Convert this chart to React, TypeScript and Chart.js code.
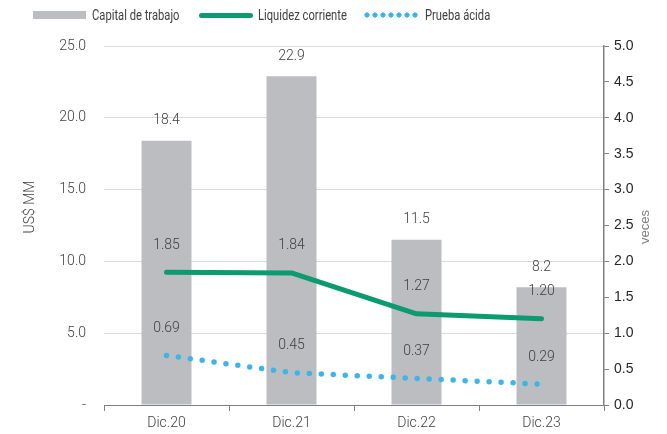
import React, { useEffect, useRef } from "react";
import { Chart, registerables } from "chart.js";

Chart.register(...registerables);

const categories = ["Dic.20", "Dic.21", "Dic.22", "Dic.23"];
const capitalTrabajo = [18.4, 22.9, 11.5, 8.2];
const liquidezCorriente = [1.85, 1.84, 1.27, 1.2];
const pruebaAcida = [0.69, 0.45, 0.37, 0.29];

const BAR_COLOR = "#bcbdc0";
const GREEN = "#0c9a70";
const BLUE = "#3db5e8";
const TEXT = "#404040";
const LIGHT_FONT = "Roboto, 'Liberation Sans', sans-serif";

const labelsPlugin = {
  id: "valueLabels",
  afterDatasetsDraw(chart: any) {
    const ctx = chart.ctx;
    ctx.save();
    ctx.font = `300 14px ${LIGHT_FONT}`;
    ctx.fillStyle = TEXT;
    ctx.textAlign = "center";
    ctx.textBaseline = "middle";
    chart.data.datasets.forEach((ds: any, i: number) => {
      const meta = chart.getDatasetMeta(i);
      const isBar = meta.type === "bar";
      meta.data.forEach((el: any, j: number) => {
        const v = ds.data[j];
        const txt = isBar ? v.toFixed(1) : v.toFixed(2);
        ctx.fillText(txt, el.x, el.y - (isBar ? 20 : 27));
      });
    });
    ctx.restore();
  },
  afterDraw(chart: any) {
    const ctx = chart.ctx;
    const area = chart.chartArea;
    ctx.save();
    ctx.textAlign = "center";
    ctx.textBaseline = "middle";
    ctx.font = `300 14px ${LIGHT_FONT}`;
    ctx.fillStyle = TEXT;
    ctx.translate(30, 207);
    ctx.rotate(-Math.PI / 2);
    ctx.fillText("US$ MM", 0, 0);
    ctx.restore();
    ctx.save();
    ctx.textAlign = "center";
    ctx.textBaseline = "middle";
    ctx.font = `13px 'Liberation Sans', Arial, sans-serif`;
    ctx.fillStyle = "#7f7f7f";
    ctx.translate(area.right + 41, 227);
    ctx.rotate(-Math.PI / 2);
    ctx.fillText("veces", 0, 0);
    ctx.restore();
  },
};

export default function App() {
  const ref = useRef<HTMLCanvasElement | null>(null);

  useEffect(() => {
    if (!ref.current) return;
    const chart = new Chart(ref.current, {
      type: "bar",
      data: {
        labels: categories,
        datasets: [
          {
            type: "line",
            label: "Liquidez corriente",
            data: liquidezCorriente,
            yAxisID: "y1",
            borderColor: GREEN,
            backgroundColor: GREEN,
            borderWidth: 5,
            borderCapStyle: "round",
            borderJoinStyle: "round",
            pointRadius: 0,
            tension: 0,
            order: 1,
          } as any,
          {
            type: "line",
            label: "Prueba ácida",
            data: pruebaAcida,
            yAxisID: "y1",
            borderColor: BLUE,
            backgroundColor: BLUE,
            borderWidth: 5.5,
            borderDash: [0, 12],
            borderCapStyle: "round",
            pointRadius: 0,
            tension: 0,
            order: 2,
          } as any,
          {
            type: "bar",
            label: "Capital de trabajo",
            data: capitalTrabajo,
            yAxisID: "y",
            backgroundColor: BAR_COLOR,
            barPercentage: 0.4,
            categoryPercentage: 1,
            order: 3,
          } as any,
        ],
      },
      options: {
        animation: false,
        responsive: true,
        maintainAspectRatio: false,
        layout: { padding: { top: 46, left: 0, right: 0, bottom: 0 } },
        plugins: {
          legend: { display: false },
          tooltip: { enabled: false },
        },
        scales: {
          x: {
            offset: true,
            grid: {
              display: true,
              drawOnChartArea: false,
              drawTicks: true,
              tickLength: 6,
              color: "#7f7f7f",
              offset: true,
            },
            border: { display: true, color: "#7f7f7f", width: 1 },
            ticks: {
              color: TEXT,
              font: { family: LIGHT_FONT, size: 14, weight: "300" as any },
              padding: 4,
            },
            afterFit: (s: any) => {
              s.height = 29;
            },
          },
          y: {
            position: "left",
            min: 0,
            max: 25,
            ticks: {
              stepSize: 5,
              color: TEXT,
              font: { family: LIGHT_FONT, size: 14, weight: "300" as any },
              padding: 18,
              callback: (v: any) => (Number(v) === 0 ? "-" : Number(v).toFixed(1)),
            },
            grid: { color: "#d9d9d9", drawTicks: false },
            border: { display: false },
            afterFit: (s: any) => {
              s.width = 104;
            },
          },
          y1: {
            position: "right",
            min: 0,
            max: 5,
            ticks: {
              stepSize: 0.5,
              color: "#262626",
              font: { family: "'Liberation Sans', Arial, sans-serif", size: 14 },
              padding: 5,
              callback: (v: any) => Number(v).toFixed(1),
            },
            grid: {
              drawOnChartArea: false,
              drawTicks: true,
              tickLength: 5,
              color: "#7f7f7f",
            },
            border: { display: true, color: "#7f7f7f", width: 1.5 },
            afterFit: (s: any) => {
              s.width = 63;
            },
          },
        },
      },
      plugins: [labelsPlugin],
    });
    return () => chart.destroy();
  }, []);

  const legendText: React.CSSProperties = {
    position: "absolute",
    top: 6,
    fontFamily: "Roboto, sans-serif",
    fontSize: 14,
    lineHeight: "18px",
    color: TEXT,
    whiteSpace: "nowrap",
    transform: "scaleX(0.8)",
    transformOrigin: "0 0",
  };

  return (
    <div
      style={{
        position: "fixed",
        left: 0,
        top: 0,
        width: 667,
        height: 434,
        background: "#fff",
      }}
    >
      <canvas ref={ref} />
      <div style={{ position: "absolute", left: 33, top: 11, width: 53, height: 8, background: BAR_COLOR }} />
      <div style={{ ...legendText, left: 92 }}>Capital de trabajo</div>
      <div
        style={{
          position: "absolute",
          left: 199,
          top: 13,
          width: 54,
          height: 5,
          borderRadius: 3,
          background: GREEN,
        }}
      />
      <div style={{ ...legendText, left: 258 }}>Liquidez corriente</div>
      <div
        style={{
          position: "absolute",
          left: 363,
          top: 12,
          width: 56,
          height: 6,
          background: `radial-gradient(circle, ${BLUE} 2.3px, transparent 2.9px) 0 0 / 8px 6px repeat-x`,
        }}
      />
      <div style={{ ...legendText, left: 425 }}>Prueba ácida</div>
    </div>
  );
}
